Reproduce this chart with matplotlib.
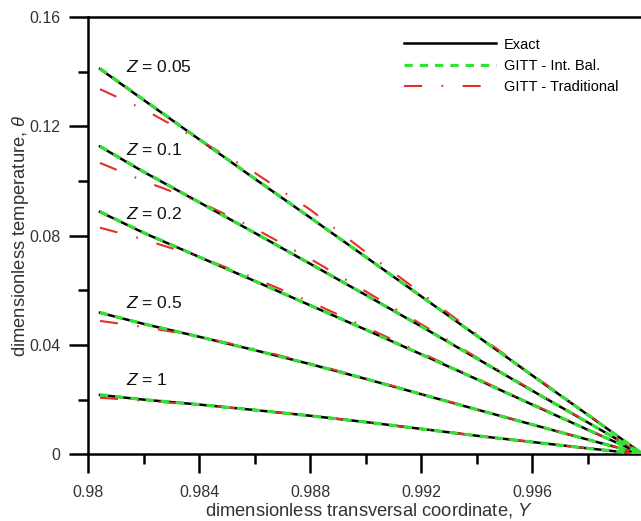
import numpy as np
import matplotlib
matplotlib.use("Agg")
import matplotlib.pyplot as plt
from matplotlib.ticker import MultipleLocator, FixedFormatter, FixedLocator

plt.rcParams['font.family'] = ['Liberation Sans', 'DejaVu Sans']
plt.rcParams['mathtext.fontset'] = 'custom'
plt.rcParams['mathtext.it'] = 'Liberation Sans:italic'
plt.rcParams['mathtext.rm'] = 'Liberation Sans'
plt.rcParams['lines.scale_dashes'] = False

# transversal coordinate Y
Y = [0.98042, 0.982, 0.984, 0.986, 0.988, 0.990, 0.992, 0.994, 0.996, 0.998, 1.0]

z_labels = ["0.05", "0.1", "0.2", "0.5", "1"]

# exact solution, one row per Z
exact = [
    [0.1410, 0.1296, 0.1152, 0.1008, 0.0866, 0.0722, 0.0578, 0.0434, 0.0289, 0.0145, 0.0],
    [0.1126, 0.1033, 0.0922, 0.0810, 0.0697, 0.0583, 0.0468, 0.0351, 0.0233, 0.0117, 0.0],
    [0.0887, 0.0810, 0.0722, 0.0634, 0.0545, 0.0456, 0.0366, 0.0275, 0.0182, 0.0090, 0.0],
    [0.0518, 0.0477, 0.0430, 0.0381, 0.0330, 0.0276, 0.0220, 0.0164, 0.0109, 0.0054, 0.0],
    [0.0217, 0.0200, 0.0182, 0.0162, 0.0141, 0.0118, 0.0093, 0.0068, 0.0045, 0.0022, 0.0],
]

# GITT with integral balance - practically on top of the exact one
int_bal = [
    [0.1412, 0.1297, 0.1153, 0.1009, 0.0866, 0.0722, 0.0578, 0.0434, 0.0289, 0.0145, 0.0],
    [0.1127, 0.1034, 0.0922, 0.0810, 0.0697, 0.0583, 0.0468, 0.0351, 0.0233, 0.0117, 0.0],
    [0.0888, 0.0811, 0.0722, 0.0634, 0.0545, 0.0456, 0.0366, 0.0275, 0.0182, 0.0090, 0.0],
    [0.0519, 0.0477, 0.0430, 0.0381, 0.0330, 0.0276, 0.0220, 0.0164, 0.0109, 0.0054, 0.0],
    [0.0218, 0.0200, 0.0182, 0.0162, 0.0141, 0.0118, 0.0093, 0.0068, 0.0045, 0.0022, 0.0],
]

# traditional GITT
trad = [
    [0.1336, 0.1262, 0.1150, 0.1030, 0.0895, 0.0740, 0.0590, 0.0440, 0.0292, 0.0147, 0.0],
    [0.1066, 0.1000, 0.0924, 0.0826, 0.0715, 0.0596, 0.0476, 0.0355, 0.0235, 0.0118, 0.0],
    [0.0829, 0.0786, 0.0722, 0.0644, 0.0558, 0.0465, 0.0371, 0.0278, 0.0184, 0.0091, 0.0],
    [0.0488, 0.0466, 0.0431, 0.0385, 0.0333, 0.0278, 0.0221, 0.0165, 0.0109, 0.0054, 0.0],
    [0.0207, 0.0196, 0.0181, 0.0162, 0.0141, 0.0118, 0.0093, 0.0068, 0.0045, 0.0022, 0.0],
]

label_pos = [(0.98136, 0.1418), (0.98136, 0.1114), (0.98136, 0.0879),
             (0.98136, 0.0554), (0.98136, 0.0272)]

fig = plt.figure(figsize=(6.41, 5.21), dpi=100)
ax = fig.add_axes([0.1378, 0.128, 0.8654, 0.8394])

green = '#33e033'
red = '#e2302c'
for i in range(len(z_labels)):
    l1, = ax.plot(Y, exact[i], color='black', lw=1.8, zorder=3)
    l3, = ax.plot(Y, trad[i], color=red, lw=1.5, dashes=(13, 14, 1.2, 14), zorder=4)
    l2, = ax.plot(Y, int_bal[i], color=green, lw=2.3, dashes=(6, 5), zorder=5)
    ax.text(label_pos[i][0], label_pos[i][1], '$Z$ = ' + z_labels[i],
            fontsize=12.5, ha='left', va='center', color='#111111')

leg = ax.legend([l1, l2, l3], ['Exact', 'GITT - Int. Bal.', 'GITT - Traditional'],
                loc='upper left', bbox_to_anchor=(0.569, 0.953), frameon=False,
                fontsize=10.5, handlelength=6.3, handletextpad=0.55,
                labelspacing=0.5, borderpad=0, borderaxespad=0)

ax.set_xlim(0.98, 1.0)
ax.set_ylim(0, 0.16)
ax.xaxis.set_major_locator(FixedLocator([0.98, 0.984, 0.988, 0.992, 0.996, 1.0]))
ax.xaxis.set_major_formatter(FixedFormatter(['0.98', '0.984', '0.988', '0.992', '0.996', '']))
ax.xaxis.set_minor_locator(MultipleLocator(0.002))
ax.yaxis.set_major_locator(FixedLocator([0, 0.04, 0.08, 0.12, 0.16]))
ax.yaxis.set_major_formatter(FixedFormatter(['0', '0.04', '0.08', '0.12', '0.16']))
ax.yaxis.set_minor_locator(MultipleLocator(0.02))

ax.tick_params(which='major', direction='out', length=14, width=1.8,
               labelsize=11.5, labelcolor='#333333', pad=6)
ax.tick_params(which='minor', direction='out', length=7, width=1.8)
ax.tick_params(axis='x', which='major', pad=8)
for s in ax.spines.values():
    s.set_linewidth(1.8)

ax.set_xlabel('dimensionless transversal coordinate, $Y$', fontsize=13.2,
              color='#333333', va='top')
ax.xaxis.set_label_coords(0.505, -0.106)
ax.set_ylabel(r'dimensionless temperature, $\theta$', fontsize=13.2,
              color='#333333')
ax.yaxis.set_label_coords(-0.103, 0.5)

fig.savefig('out.png', dpi=100)
